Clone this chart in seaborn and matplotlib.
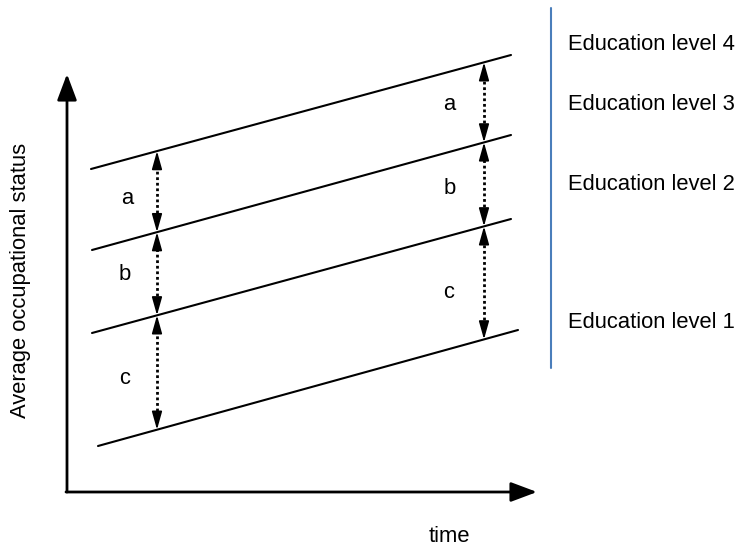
import matplotlib
matplotlib.use('Agg')
import numpy as np
import pandas as pd
import seaborn as sns
import matplotlib.pyplot as plt

# education levels, one line each (time -> average occupational status)
levels = ['Education level 1', 'Education level 2', 'Education level 3', 'Education level 4']
t_start = [98, 92, 92, 91]
status_start = [106, 219, 302, 383]
t_end = [518, 511, 511, 511]
status_end = [222, 333, 417, 497]

# gaps between neighbouring levels (1-2, 2-3, 3-4)
gap_names = ['c', 'b', 'a']
gap_times = [157, 484]

sns.set_theme(style='white')
plt.rcParams['font.family'] = ['Liberation Sans', 'DejaVu Sans']
plt.rcParams['text.color'] = 'black'
FS = 15.8

df = pd.DataFrame({
    'level': np.repeat(levels, 2),
    'time': np.ravel(list(zip(t_start, t_end))),
    'status': np.ravel(list(zip(status_start, status_end))),
})

fig = plt.figure(figsize=(7.47, 5.52), dpi=100)
ax = fig.add_axes([0, 0, 1, 1])
ax.set_xlim(0, 747)
ax.set_ylim(0, 552)
ax.set_axis_off()

sns.lineplot(data=df, x='time', y='status', hue='level', palette=['black'] * 4,
             legend=False, lw=1.5, ax=ax)

# axes with arrow heads
ox, oy = 67, 60
axis_props = dict(arrowstyle='-|>,head_length=0.8,head_width=0.3', lw=2, color='black',
                  mutation_scale=20, shrinkA=0, shrinkB=0)
ax.annotate('', xy=(ox, 478), xytext=(ox, oy), arrowprops=axis_props)
ax.annotate('', xy=(537, oy), xytext=(ox - 1, oy), arrowprops=axis_props)
ax.text(21, 272, 'Average occupational status', rotation=90, ha='center', va='center', fontsize=FS)
ax.text(449, 15, 'time', ha='center', va='center', fontsize=FS)

# dotted double arrows between levels
head = dict(arrowstyle='-|>,head_length=1.0,head_width=0.28', lw=1.2, color='black',
            mutation_scale=11, shrinkA=0, shrinkB=0)
label_pos = {157: [(125, 174), (125, 277), (127, 354)],
             484: [(449, 259), (450, 364), (449, 448)]}
for t in gap_times:
    ys = [np.interp(t, [x0, x1], [y0, y1]) for x0, x1, y0, y1 in zip(t_start, t_end, status_start, status_end)]
    for i, name in enumerate(gap_names):
        lo, hi = ys[i], ys[i + 1]
        ax.plot([t, t], [lo + 8, hi - 8], color='black', lw=2, ls=(0, (1, 1)))
        ax.annotate('', xy=(t, hi), xytext=(t, hi - 12), arrowprops=head)
        ax.annotate('', xy=(t, lo), xytext=(t, lo + 12), arrowprops=head)
        lx, ly = label_pos[t][i]
        ax.text(lx, ly, name, ha='center', va='center', fontsize=FS)

# legend column on the right
ax.plot([551, 551], [544, 184], color='#4a7ebb', lw=1.5)
for name, y in zip(levels, [230, 367, 447, 507]):
    ax.text(568, y, name, ha='left', va='center', fontsize=FS)

fig.savefig('out.png', dpi=100)
